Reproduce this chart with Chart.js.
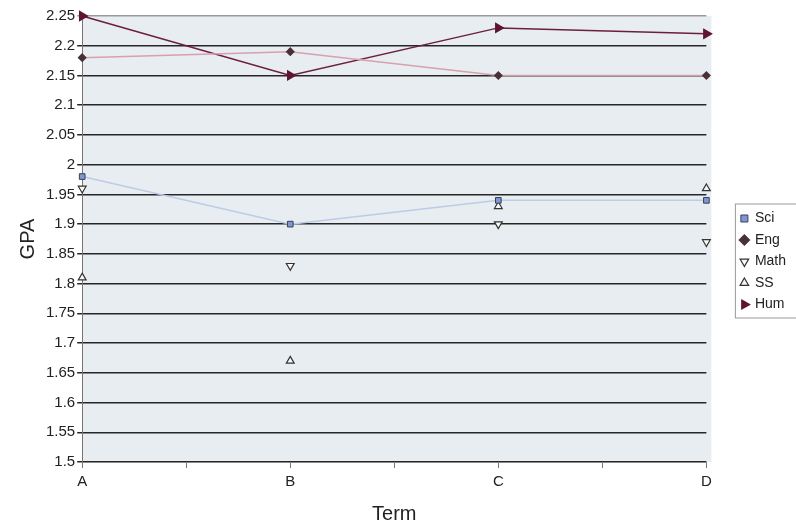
<!DOCTYPE html>
<html>
<head>
<meta charset="utf-8">
<script src="https://cdn.jsdelivr.net/npm/chart.js@4"></script>
<style>
  html, body { margin: 0; padding: 0; background: #fff; }
  #wrap { width: 796px; height: 526px; }
</style>
</head>
<body>
<div id="wrap"><canvas id="gpaChart"></canvas></div>
<script>
// terms on the x axis
const terms = ['A', 'B', 'C', 'D'];

// GPA per subject, one value per term
const sci  = [1.98, 1.90, 1.94, 1.94];
const eng  = [2.18, 2.19, 2.15, 2.15];
const math = [1.96, 1.83, 1.90, 1.87];
const ss   = [1.81, 1.67, 1.93, 1.96];
const hum  = [2.25, 2.15, 2.23, 2.22];

const yMin = 1.5, yMax = 2.25, yStep = 0.05;

function toPoints(values) {
    return values.map((v, i) => ({ x: i, y: v }));
}

// shaded plot area like the spreadsheet chart
const plotBackground = {
    id: 'plotBackground',
    beforeDraw(chart) {
        const { ctx, chartArea: a } = chart;
        ctx.save();
        ctx.fillStyle = '#e8edf1';
        ctx.fillRect(a.left, a.top, a.right - a.left + 5, a.bottom - a.top);
        ctx.restore();
    }
};

// border round the legend
const legendFrame = {
    id: 'legendFrame',
    afterDraw(chart) {
        const boxes = chart.legend.legendHitBoxes;
        if (!boxes || !boxes.length) return;
        const ctx = chart.ctx;
        const top = boxes[0].top - 8;
        const last = boxes[boxes.length - 1];
        const bottom = last.top + last.height + 6;
        const left = Math.min(...boxes.map(b => b.left)) - 6;
        ctx.save();
        ctx.strokeStyle = '#999';
        ctx.lineWidth = 1;
        ctx.strokeRect(left + 0.5, top + 0.5, 796 - left, bottom - top);
        ctx.restore();
    }
};

const font = 'Liberation Sans';

new Chart(document.getElementById('gpaChart'), {
    type: 'line',
    data: {
        datasets: [
            {
                label: 'Sci', data: toPoints(sci), clip: false,
                borderColor: '#bccbe6', borderWidth: 1.5,
                pointStyle: 'rect', pointRadius: 4,
                pointBackgroundColor: '#7f95d6', pointBorderColor: '#3a4050', pointBorderWidth: 1,
                backgroundColor: '#7f95d6'
            },
            {
                label: 'Eng', data: toPoints(eng), clip: false,
                borderColor: '#d7a0ad', borderWidth: 1.5,
                pointStyle: 'rectRot', pointRadius: 3.5,
                pointBackgroundColor: '#4a3036', pointBorderColor: '#4a3036',
                backgroundColor: '#4a3036'
            },
            {
                label: 'Math', data: toPoints(math), showLine: false, clip: false,
                pointStyle: 'triangle', pointRotation: 180, pointRadius: 4.5,
                pointBackgroundColor: '#fbfbf4', pointBorderColor: '#333', pointBorderWidth: 1.2,
                backgroundColor: '#fbfbf4', borderColor: '#333'
            },
            {
                label: 'SS', data: toPoints(ss), showLine: false, clip: false,
                pointStyle: 'triangle', pointRadius: 4.5,
                pointBackgroundColor: '#f4f6f8', pointBorderColor: '#333', pointBorderWidth: 1.2,
                backgroundColor: '#f4f6f8', borderColor: '#333'
            },
            {
                label: 'Hum', data: toPoints(hum), clip: false,
                borderColor: '#6a1f3c', borderWidth: 1.5,
                pointStyle: 'triangle', pointRotation: 90, pointRadius: 5,
                pointBackgroundColor: '#5e1432', pointBorderColor: '#5e1432',
                backgroundColor: '#5e1432'
            }
        ]
    },
    options: {
        responsive: true,
        maintainAspectRatio: false,
        animation: false,
        layout: { padding: { top: 16, right: 0, bottom: 0, left: 12 } },
        plugins: {
            tooltip: { enabled: false },
            legend: {
                position: 'right',
                align: 'start',
                // empty title, only used to push the items down to the middle
                title: {
                    display: true, text: '',
                    font: { family: font, size: 12, lineHeight: 1 },
                    padding: { top: 0, bottom: 176 }
                },
                labels: {
                    usePointStyle: true,
                    boxWidth: 7, boxHeight: 7,
                    padding: 7.5,
                    color: '#222',
                    font: { family: font, size: 14 }
                }
            }
        },
        scales: {
            x: {
                type: 'linear',
                min: 0, max: terms.length - 1,
                ticks: {
                    stepSize: 0.5,
                    autoSkip: false,
                    maxRotation: 0,
                    padding: 5,
                    color: '#222',
                    font: { family: font, size: 15 },
                    callback: v => Number.isInteger(v) ? terms[v] : ''
                },
                grid: { drawOnChartArea: false, tickLength: 6, color: '#777' },
                border: { color: '#888' },
                title: {
                    display: true, text: 'Term', color: '#222',
                    font: { family: font, size: 20 }, padding: { top: 6, bottom: 0 }
                }
            },
            y: {
                min: yMin, max: yMax,
                ticks: {
                    stepSize: yStep,
                    color: '#222',
                    padding: 2,
                    font: { family: font, size: 15 },
                    callback: v => String(+v.toFixed(2))
                },
                grid: {
                    tickLength: 5,
                    lineWidth: 1.5,
                    color: c => (c.tick && Math.abs(c.tick.value - yMax) < 1e-6) ? '#9a9a9a' : '#262626'
                },
                border: { color: '#777' },
                title: {
                    display: true, text: 'GPA', color: '#222',
                    font: { family: font, size: 20 }, padding: { bottom: 4 }
                }
            },
            // empty axis that only keeps a gap between the plot and the legend
            gap: {
                position: 'right',
                min: yMin, max: yMax,
                ticks: { display: false },
                grid: { drawOnChartArea: false, drawTicks: false },
                border: { display: false },
                afterFit: s => { s.width = 27; }
            }
        }
    },
    plugins: [plotBackground, legendFrame]
});
</script>
</body>
</html>
